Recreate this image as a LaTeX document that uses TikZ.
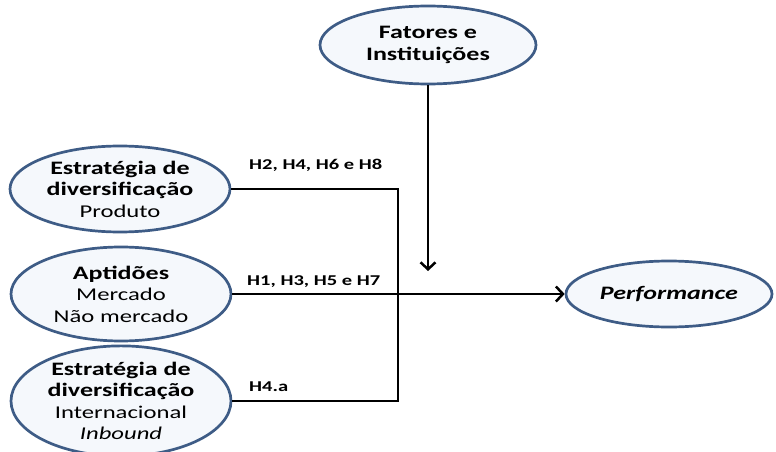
\documentclass[tikz,border=0pt]{standalone}
\usepackage{fontspec}
\setmainfont{Carlito}[FakeStretch=1.37]
\usetikzlibrary{shapes.geometric,arrows.meta}
\definecolor{ellline}{HTML}{3E5C86}
\definecolor{ellfill}{HTML}{F5F8FC}
\newcommand\hb{\fontsize{19}{21.5}\selectfont\bfseries}
\begin{document}
\begin{tikzpicture}[x=1pt,y=-1pt,
  ell/.style={ellipse,draw=ellline,fill=ellfill,line width=2.7pt,inner sep=0pt,align=center,
    font=\fontsize{18}{21.5}\selectfont},
  conn/.style={line width=2.5pt,black},
  tip/.style={-{Straight Barb[length=7pt,width=15pt]}},
  hyp/.style={anchor=base west,inner sep=0pt,font=\fontsize{15}{16}\selectfont\bfseries}]
\useasboundingbox (0,0) rectangle (776,452);
\node[ell,minimum width=216pt,minimum height=78pt] (fat) at (428,45)
  {\hb Fatores e\\\hb Instituições};
\node[ell,minimum width=220pt,minimum height=86pt] (prod) at (120,189)
  {\hb Estratégia de\\\hb diversificação\\Produto};
\node[ell,minimum width=220pt,minimum height=94pt] (apt) at (121,294)
  {\hb Aptidões\\Mercado\\Não mercado};
\node[ell,minimum width=220pt,minimum height=100pt] (intl) at (121,401)
  {\hb Estratégia de\\\hb diversificação\\Internacional\\\itshape Inbound};
\node[ell,minimum width=206pt,minimum height=66pt] (perf) at (669,294)
  {\hb\itshape Performance};
\coordinate (bend) at (398,294);
\coordinate (ftip) at (428,271);
\draw[conn] (prod.east) -| (bend) |- (intl.east);
\draw[conn,tip] (apt.east) -- (perf.west);
\draw[conn,tip] (fat.south) -- (ftip);
\node[hyp] (h1) at (249,169) {H2, H4, H6 e H8};
\node[hyp] (h2) at (247,285) {H1, H3, H5 e H7};
\node[hyp] (h3) at (249,391) {H4.a};
\end{tikzpicture}
\end{document}
